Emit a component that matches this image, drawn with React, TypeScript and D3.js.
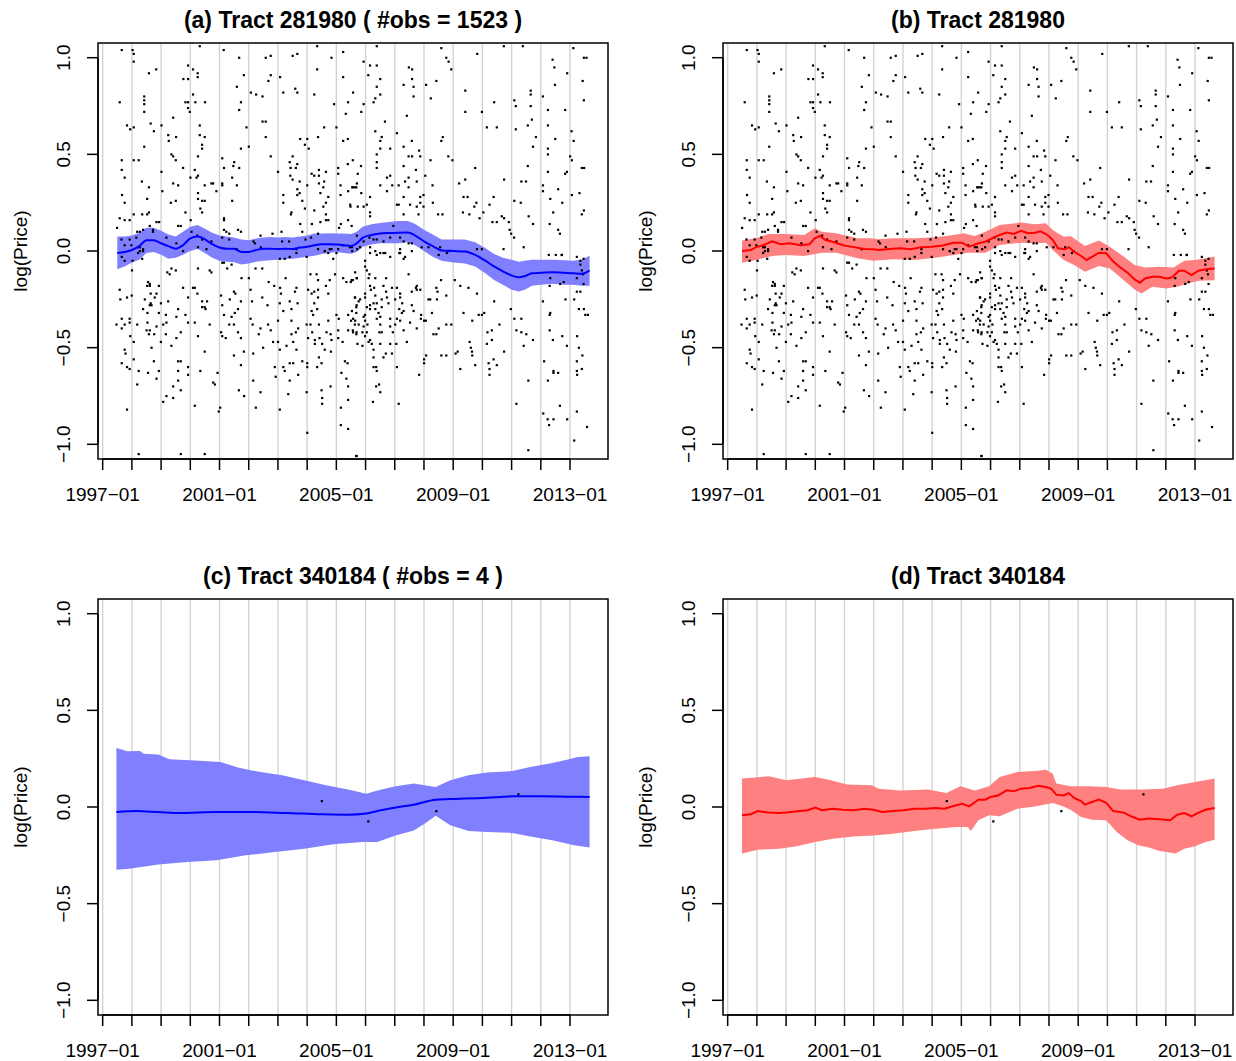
import React from "react";
import * as d3 from "d3";

// ---------------- data ----------------
const xTickYears = [1997, 1998, 1999, 2000, 2001, 2002, 2003, 2004, 2005, 2006, 2007, 2008, 2009, 2010, 2011, 2012, 2013];
const xLabelYears = [1997, 2001, 2005, 2009, 2013];
const yTicks = [-1, -0.5, 0, 0.5, 1];

// Panel (a) posterior mean (blue) and band
const lineA: [number, number][] = [
  [1997.5, -0.01], [1997.75, -0.005], [1998.0, 0.005], [1998.25, 0.025], [1998.5, 0.055], [1998.75, 0.055],
  [1999.0, 0.04], [1999.25, 0.025], [1999.5, 0.012], [1999.75, 0.03], [2000.0, 0.065], [2000.25, 0.075],
  [2000.5, 0.06], [2000.75, 0.035], [2001.0, 0.018], [2001.25, 0.012], [2001.5, 0.012], [2001.75, -0.005],
  [2002.0, -0.005], [2002.25, 0.005], [2002.5, 0.012], [2002.75, 0.012], [2003.0, 0.01], [2003.25, 0.012],
  [2003.5, 0.01], [2003.75, 0.018], [2004.0, 0.022], [2004.25, 0.03], [2004.5, 0.035], [2004.75, 0.035],
  [2005.0, 0.033], [2005.25, 0.03], [2005.5, 0.026], [2005.7, 0.04], [2005.9, 0.068], [2006.2, 0.083],
  [2006.5, 0.09], [2006.8, 0.093], [2007.1, 0.095], [2007.45, 0.096], [2007.7, 0.08], [2008.0, 0.05],
  [2008.3, 0.025], [2008.6, 0.003], [2009.0, 0.0], [2009.4, -0.003], [2009.75, -0.02], [2010.1, -0.05],
  [2010.4, -0.08], [2010.7, -0.105], [2011.0, -0.127], [2011.25, -0.136], [2011.45, -0.13], [2011.7, -0.115],
  [2012.0, -0.113], [2012.4, -0.11], [2012.8, -0.113], [2013.1, -0.115], [2013.4, -0.118], [2013.67, -0.1],
];
const upperA: [number, number][] = [
  [1997.5, 0.075], [1997.75, 0.075], [1998.0, 0.08], [1998.25, 0.095], [1998.5, 0.12], [1998.75, 0.12],
  [1999.0, 0.105], [1999.25, 0.085], [1999.5, 0.075], [1999.75, 0.1], [2000.0, 0.125], [2000.25, 0.135],
  [2000.5, 0.115], [2000.75, 0.095], [2001.0, 0.08], [2001.25, 0.075], [2001.5, 0.07], [2001.75, 0.06],
  [2002.0, 0.055], [2002.25, 0.065], [2002.5, 0.07], [2002.75, 0.072], [2003.0, 0.07], [2003.25, 0.072],
  [2003.5, 0.07], [2003.75, 0.075], [2004.0, 0.08], [2004.25, 0.09], [2004.5, 0.09], [2004.75, 0.092],
  [2005.0, 0.09], [2005.25, 0.09], [2005.5, 0.088], [2005.7, 0.1], [2005.9, 0.125], [2006.2, 0.138],
  [2006.5, 0.145], [2006.8, 0.15], [2007.1, 0.155], [2007.45, 0.155], [2007.7, 0.14], [2008.0, 0.11],
  [2008.3, 0.085], [2008.6, 0.06], [2009.0, 0.06], [2009.4, 0.06], [2009.75, 0.045], [2010.1, 0.015],
  [2010.4, -0.015], [2010.7, -0.035], [2011.0, -0.045], [2011.25, -0.055], [2011.45, -0.05], [2011.7, -0.045],
  [2012.0, -0.045], [2012.4, -0.045], [2012.8, -0.048], [2013.1, -0.05], [2013.4, -0.045], [2013.67, -0.025],
];
const lowerA: [number, number][] = [
  [1997.5, -0.095], [1997.75, -0.08], [1998.0, -0.06], [1998.25, -0.045], [1998.5, -0.01], [1998.75, -0.005],
  [1999.0, -0.02], [1999.25, -0.04], [1999.5, -0.035], [1999.75, -0.02], [2000.0, 0.0], [2000.25, 0.01],
  [2000.5, -0.01], [2000.75, -0.035], [2001.0, -0.05], [2001.25, -0.055], [2001.5, -0.058], [2001.75, -0.07],
  [2002.0, -0.065], [2002.25, -0.055], [2002.5, -0.05], [2002.75, -0.048], [2003.0, -0.045], [2003.25, -0.043],
  [2003.5, -0.04], [2003.75, -0.035], [2004.0, -0.03], [2004.25, -0.025], [2004.5, -0.015], [2004.75, -0.01],
  [2005.0, -0.005], [2005.25, -0.01], [2005.5, -0.014], [2005.7, -0.005], [2005.9, 0.022], [2006.2, 0.033],
  [2006.5, 0.04], [2006.8, 0.04], [2007.1, 0.04], [2007.45, 0.045], [2007.7, 0.03], [2008.0, 0.0],
  [2008.3, -0.03], [2008.6, -0.05], [2009.0, -0.06], [2009.4, -0.065], [2009.75, -0.08], [2010.1, -0.115],
  [2010.4, -0.15], [2010.7, -0.175], [2011.0, -0.2], [2011.25, -0.21], [2011.45, -0.2], [2011.7, -0.18],
  [2012.0, -0.175], [2012.4, -0.17], [2012.8, -0.175], [2013.1, -0.175], [2013.4, -0.18], [2013.67, -0.18],
];

// Panel (b) red line and band
const lineB: [number, number][] = [
  [1997.49, 0.0], [1997.79, 0.005], [1997.97, 0.02], [1998.22, 0.03], [1998.52, 0.05], [1998.82, 0.035],
  [1999.13, 0.04], [1999.49, 0.03], [1999.8, 0.035], [1999.98, 0.065], [2000.16, 0.078], [2000.35, 0.057],
  [2000.59, 0.048], [2000.95, 0.03], [2001.32, 0.02], [2001.68, 0.01], [2001.99, 0.009], [2002.17, 0.005],
  [2002.54, 0.01], [2002.9, 0.014], [2003.27, 0.009], [2003.63, 0.02], [2003.99, 0.022], [2004.36, 0.028],
  [2004.73, 0.043], [2005.03, 0.043], [2005.27, 0.022], [2005.58, 0.04], [2005.82, 0.048], [2006.06, 0.066],
  [2006.31, 0.083], [2006.55, 0.095], [2006.79, 0.088], [2007.04, 0.104], [2007.28, 0.092], [2007.52, 0.095],
  [2007.71, 0.102], [2007.95, 0.083], [2008.13, 0.057], [2008.31, 0.014], [2008.56, 0.009], [2008.68, 0.02],
  [2008.86, -0.003], [2009.1, -0.026], [2009.29, -0.047], [2009.47, -0.03], [2009.71, -0.009], [2009.96, -0.012],
  [2010.2, -0.055], [2010.44, -0.085], [2010.69, -0.112], [2010.93, -0.147], [2011.11, -0.164], [2011.29, -0.142],
  [2011.54, -0.133], [2011.78, -0.133], [2012.02, -0.142], [2012.21, -0.137], [2012.45, -0.102], [2012.63, -0.102],
  [2012.88, -0.125], [2013.12, -0.102], [2013.36, -0.095], [2013.67, -0.09],
];
const upperB: [number, number][] = [
  [1997.49, 0.054], [1997.97, 0.066], [1998.4, 0.088], [1999.01, 0.088], [1999.62, 0.083], [1999.98, 0.118],
  [2000.22, 0.1], [2000.71, 0.092], [2001.44, 0.066], [2001.93, 0.066], [2002.17, 0.061], [2002.66, 0.066],
  [2003.39, 0.066], [2004.12, 0.071], [2004.73, 0.083], [2005.09, 0.092], [2005.46, 0.078], [2005.82, 0.1],
  [2006.31, 0.135], [2007.04, 0.147], [2007.52, 0.138], [2007.89, 0.144], [2008.13, 0.109], [2008.5, 0.074],
  [2008.74, 0.078], [2009.23, 0.026], [2009.71, 0.054], [2010.08, 0.022], [2010.56, -0.029], [2010.93, -0.073],
  [2011.29, -0.085], [2011.78, -0.081], [2012.27, -0.085], [2012.63, -0.05], [2013.0, -0.047], [2013.36, -0.038],
  [2013.67, -0.029],
];
const lowerB: [number, number][] = [
  [1997.49, -0.061], [1997.97, -0.047], [1998.52, -0.026], [1999.01, -0.021], [1999.62, -0.026], [2000.22, -0.009],
  [2000.71, -0.009], [2001.44, -0.038], [2001.99, -0.05], [2002.66, -0.043], [2003.39, -0.047], [2004.12, -0.035],
  [2004.73, -0.021], [2005.21, -0.009], [2005.82, -0.009], [2006.31, 0.031], [2007.04, 0.043], [2007.52, 0.04],
  [2007.89, 0.043], [2008.13, 0.005], [2008.5, -0.047], [2008.86, -0.073], [2009.23, -0.107], [2009.71, -0.078],
  [2010.08, -0.09], [2010.56, -0.151], [2010.93, -0.199], [2011.17, -0.22], [2011.54, -0.185], [2012.02, -0.194],
  [2012.39, -0.185], [2012.75, -0.168], [2013.12, -0.154], [2013.67, -0.151],
];

// Panel (c) blue line and band
const lineC: [number, number][] = [
  [1997.47, -0.026], [1998.16, -0.021], [1998.91, -0.026], [1999.66, -0.031], [2000.9, -0.026], [2002.03, -0.026],
  [2003.28, -0.031], [2004.53, -0.038], [2005.4, -0.04], [2006.03, -0.034], [2006.4, -0.021], [2007.03, -0.003],
  [2007.65, 0.012], [2008.4, 0.038], [2008.9, 0.041], [2010.15, 0.048], [2011.02, 0.055], [2012.02, 0.055],
  [2012.89, 0.053], [2013.67, 0.052],
];
const upperC: [number, number][] = [
  [1997.47, 0.305], [1997.85, 0.288], [1998.28, 0.29], [1998.41, 0.276], [1998.91, 0.272], [1999.28, 0.247],
  [2000.16, 0.241], [2001.03, 0.233], [2001.66, 0.203], [2002.4, 0.181], [2003.15, 0.164], [2003.9, 0.138],
  [2004.65, 0.112], [2005.4, 0.09], [2006.03, 0.069], [2006.4, 0.086], [2007.03, 0.107], [2007.65, 0.121],
  [2008.4, 0.103], [2008.9, 0.138], [2009.52, 0.164], [2010.15, 0.178], [2011.02, 0.186], [2011.64, 0.207],
  [2012.39, 0.228], [2012.89, 0.245], [2013.27, 0.259], [2013.67, 0.262],
];
const lowerC: [number, number][] = [
  [1997.47, -0.324], [1997.91, -0.319], [1998.91, -0.297], [1999.91, -0.284], [2000.9, -0.276], [2001.9, -0.25],
  [2002.9, -0.233], [2003.9, -0.216], [2004.9, -0.193], [2005.9, -0.181], [2006.4, -0.181], [2007.03, -0.147],
  [2007.65, -0.121], [2008.02, -0.086], [2008.4, -0.045], [2008.9, -0.095], [2009.52, -0.124], [2010.15, -0.129],
  [2011.02, -0.134], [2011.64, -0.152], [2012.39, -0.172], [2013.14, -0.198], [2013.67, -0.21],
];

// Panel (d) red line and band
const lineD: [number, number][] = [
  [1997.49, -0.043], [1997.79, -0.038], [1998.03, -0.021], [1998.4, -0.029], [1998.76, -0.031], [1999.01, -0.029],
  [1999.37, -0.022], [1999.74, -0.017], [2000.0, -0.003], [2000.22, -0.017], [2000.59, -0.009], [2000.95, -0.014],
  [2001.32, -0.017], [2001.68, -0.009], [2001.99, -0.014], [2002.29, -0.026], [2002.66, -0.021], [2003.02, -0.017],
  [2003.39, -0.009], [2003.75, -0.009], [2004.12, -0.005], [2004.42, -0.009], [2004.73, 0.005], [2005.03, 0.017],
  [2005.27, 0.003], [2005.58, 0.038], [2005.82, 0.038], [2006.0, 0.052], [2006.25, 0.059], [2006.55, 0.086],
  [2006.79, 0.081], [2007.04, 0.095], [2007.34, 0.098], [2007.64, 0.11], [2007.89, 0.103], [2008.07, 0.095],
  [2008.25, 0.064], [2008.5, 0.06], [2008.68, 0.072], [2008.86, 0.047], [2009.1, 0.031], [2009.23, 0.012],
  [2009.47, 0.026], [2009.71, 0.038], [2009.96, 0.022], [2010.2, -0.021], [2010.56, -0.029], [2010.81, -0.048],
  [2011.11, -0.066], [2011.42, -0.06], [2011.78, -0.064], [2012.15, -0.069], [2012.39, -0.04], [2012.63, -0.031],
  [2012.88, -0.048], [2013.12, -0.029], [2013.36, -0.014], [2013.67, -0.005],
];
const upperD: [number, number][] = [
  [1997.49, 0.147], [1998.4, 0.159], [1999.01, 0.138], [1999.98, 0.155], [2000.47, 0.141], [2001.08, 0.117],
  [2001.93, 0.112], [2002.17, 0.095], [2002.9, 0.086], [2003.87, 0.09], [2004.48, 0.072], [2004.97, 0.107],
  [2005.46, 0.086], [2005.95, 0.107], [2006.31, 0.155], [2006.92, 0.181], [2007.52, 0.186], [2007.89, 0.193],
  [2008.13, 0.172], [2008.25, 0.121], [2008.74, 0.107], [2009.35, 0.107], [2009.96, 0.103], [2010.44, 0.09],
  [2011.17, 0.09], [2011.9, 0.095], [2012.39, 0.112], [2013.0, 0.129], [2013.67, 0.147],
];
const lowerD: [number, number][] = [
  [1997.49, -0.241], [1998.03, -0.221], [1998.76, -0.216], [1999.37, -0.203], [2000.0, -0.181], [2000.59, -0.164],
  [2001.32, -0.152], [2001.99, -0.147], [2002.66, -0.138], [2003.39, -0.124], [2004.12, -0.112], [2004.85, -0.103],
  [2005.21, -0.103], [2005.33, -0.124], [2005.58, -0.069], [2005.95, -0.043], [2006.31, -0.048], [2006.92, -0.009],
  [2007.52, 0.003], [2008.13, 0.021], [2008.5, 0.003], [2008.74, -0.014], [2009.1, -0.052], [2009.47, -0.066],
  [2009.96, -0.069], [2010.32, -0.129], [2010.69, -0.172], [2011.05, -0.198], [2011.42, -0.21], [2011.78, -0.228],
  [2012.02, -0.233], [2012.33, -0.241], [2012.63, -0.216], [2013.0, -0.203], [2013.36, -0.181], [2013.67, -0.169],
];

const obsPoints281980: [number, number][] = [
  [1997.65,1.04],[1997.58,0.77],[1997.83,0.65],[1997.94,0.63],[1997.65,0.47],[1997.65,0.42],[1997.75,0.38],[1997.66,0.29],[1997.75,0.25],[1997.58,0.17],[1997.75,0.16],[1997.92,0.16],[1997.49,0.12],
  [1998.02,1.04],[1998.06,1.02],[1998.06,0.98],[1998.06,0.64],[1998.06,0.47],[1998.23,0.47],[1998.42,0.80],[1998.42,0.78],[1998.42,0.76],[1998.42,0.72],[1998.42,0.54],[1998.34,0.36],[1998.52,0.27],[1998.58,0.92],[1998.83,0.94],[1998.64,0.66],[1998.75,0.62],[1998.58,0.33],[1998.58,0.20],[1998.52,0.19],[1998.35,0.19],[1998.06,0.19],[1998.18,0.10],[1998.61,0.13],[1998.84,0.15],[1998.93,0.15],[1999.01,0.65],[1999.01,0.41],[1999.04,0.31],[1998.72,0.11],
  [1999.24,0.60],[1999.26,0.57],[1999.35,0.50],[1999.41,0.49],[1999.50,0.47],[1999.41,0.69],[1999.51,0.59],[1999.75,0.43],[1999.58,0.34],[1999.41,0.35],[1999.33,0.25],[1999.50,0.26],[1999.83,0.20],[1999.58,0.13],[1999.67,0.13],[1999.92,0.96],[1999.76,0.89],[1999.92,0.89],[1999.83,0.77],[1999.92,0.77],[1999.92,0.74],[1999.98,0.72],[2000.09,0.81],[2000.09,0.94],[2000.25,0.92],[2000.25,0.90],[2000.32,1.06],[2000.17,0.77],[2000.50,0.77],[2000.32,0.65],[2000.32,0.60],[2000.49,0.59],[2000.40,0.55],[2000.40,0.53],[2000.26,0.49],[2000.15,0.42],[2000.26,0.39],[2000.21,0.38],[2000.00,0.38],[2000.49,0.34],[2000.78,0.35],[2000.72,0.35],[2000.26,0.30],[2000.26,0.27],[2000.40,0.26],[2000.49,0.26],[2000.34,0.22],[2000.40,0.20],[2000.01,0.16],
  [2001.14,1.04],[2001.67,1.00],[2001.83,0.91],[2001.59,0.85],[2001.73,0.77],[2001.67,0.73],[2001.92,0.64],[2001.73,0.53],[2001.09,0.48],[2001.15,0.43],[2001.50,0.46],[2001.47,0.44],[2001.67,0.43],[2001.43,0.38],[2001.09,0.35],[2001.09,0.34],[2001.59,0.34],[2000.89,0.31],[2001.43,0.26],[2001.15,0.17],[2001.15,0.16],[2001.15,0.11],[2001.23,0.10],[2001.33,0.09],[2001.63,0.11],[2001.73,0.10],
  [2002.00,0.54],[2002.07,0.82],[2002.25,0.81],[2002.47,0.80],[2002.58,1.00],[2002.75,1.01],[2002.67,0.88],[2002.75,0.91],[2003.07,0.90],[2002.47,0.67],[2002.58,0.67],[2002.58,0.59],[2002.75,0.49],[2003.00,0.41],[2003.18,0.29],[2003.18,0.25],[2003.44,0.19],[2003.12,0.10],[2002.40,0.08],
  [2003.50,1.01],[2003.66,1.02],[2003.18,0.82],[2003.59,0.84],[2003.66,0.82],[2003.40,0.46],[2003.50,0.49],[2003.43,0.43],[2003.66,0.45],[2003.61,0.43],[2003.76,0.58],[2004.00,0.58],[2003.92,0.55],[2004.05,0.53],[2003.42,0.39],[2003.50,0.37],[2003.74,0.36],[2003.66,0.32],[2003.74,0.30],[2003.66,0.29],[2003.83,0.26],[2004.00,0.34],[2003.92,0.22],[2003.46,0.20],[2003.76,0.14],[2003.83,0.10],[2004.34,1.06],[2004.34,0.94],[2004.24,0.81],
  [2004.15,0.40],[2004.24,0.39],[2004.40,0.42],[2004.40,0.39],[2004.40,0.35],[2004.55,0.33],[2004.64,0.41],[2004.58,0.36],[2004.45,0.30],[2004.72,0.28],[2004.64,0.25],[2004.55,0.23],[2004.64,0.19],[2004.64,0.16],[2004.45,0.15],[2004.72,0.16],[2004.24,0.21],[2004.16,0.14],[2004.37,0.59],[2004.58,0.64],[2004.83,1.00],[2005.23,1.03],[2005.23,0.90],[2004.92,0.76],[2005.00,0.64],[2005.23,0.57],[2005.40,0.77],[2005.32,0.71],[2005.39,0.58],[2005.39,0.45],[2005.06,0.43],[2005.06,0.40],[2005.14,0.34],[2005.14,0.29],[2005.40,0.31],[2005.54,0.33],[2005.63,0.33],[2005.48,0.23],[2005.40,0.16],[2005.52,0.13],[2005.15,0.14],[2005.09,0.12],
  [1997.64,0.06],[1997.75,0.03],[1997.92,0.06],[1998.15,0.07],[1998.27,0.02],[1998.38,0.00],[1998.27,0.10],[1998.38,0.11],[1998.72,0.10],[1999.18,0.07],[1999.52,0.04],[1999.75,0.00],[2000.04,0.10],[2000.23,0.08],[2000.40,0.06],[2000.55,0.01],[2000.72,0.05],[2001.09,0.07],[2001.33,0.06],[2001.58,0.01],[2002.16,0.05],[2002.21,0.04],[2002.41,0.02],[2002.81,0.09],[2003.14,0.05],[2003.38,0.05],[2003.63,0.01],[2003.94,0.06],[2004.13,0.07],[2004.37,0.09],[2004.60,0.00],[2004.72,-0.01],[2004.83,0.01],[2005.00,-0.01],[2005.23,0.03],[2005.46,0.02],[2005.71,0.01],
  [2006.38,1.06],[2005.93,0.98],[2006.15,0.96],[2006.38,0.96],[2006.09,0.91],[2006.50,0.89],[2005.57,0.82],[2006.38,0.85],[2006.50,0.81],[2006.33,0.79],[2006.27,0.77],[2005.93,0.76],[2005.85,0.72],[2006.66,0.67],[2006.33,0.62],[2006.55,0.59],[2006.50,0.57],[2006.50,0.53],[2006.84,0.53],[2006.38,0.50],[2006.38,0.46],[2006.38,0.43],[2005.56,0.47],[2005.84,0.44],[2005.73,0.40],[2005.70,0.35],[2005.56,0.33],[2005.68,0.33],[2005.85,0.30],[2005.47,0.24],[2006.15,0.28],[2005.73,0.23],[2005.93,0.23],[2006.04,0.24],[2006.15,0.20],[2006.15,0.18],[2006.50,0.34],[2006.73,0.38],[2006.84,0.39],[2006.73,0.31],[2006.91,0.34],[2007.07,0.61],[2007.30,0.86],[2007.48,0.95],[2007.59,0.94],[2007.59,0.89],[2007.64,0.85],[2007.64,0.80],[2007.41,0.70],[2007.58,0.57],[2007.30,0.54],[2007.47,0.49],[2007.59,0.49],[2007.87,0.49],[2007.83,0.52],[2007.30,0.44],[2007.72,0.42],[2007.47,0.38],[2007.75,0.36],[2007.13,0.34],[2007.35,0.36],[2007.47,0.33],[2007.30,0.28],[2007.87,0.28],[2007.07,0.24],[2007.13,0.24],[2007.52,0.24],[2007.75,0.23],[2007.81,0.19],[2007.87,0.25],[2007.30,0.19],[2007.98,0.23],[2008.07,0.86],[2008.42,0.88],[2008.23,0.79],[2008.59,1.05],[2008.76,1.00],[2008.84,0.98],[2008.93,0.94],[2008.22,0.47],[2008.04,0.39],[2008.29,0.34],[2007.98,0.29],[2008.30,0.25],[2008.48,0.19],[2008.63,0.19],[2008.59,0.57],[2008.64,0.59],[2008.83,0.49],[2008.97,0.47],[2009.20,0.35],[2009.41,0.83],[2009.41,0.72],[2009.41,0.37],[2009.35,0.28],[2009.49,0.28],[2009.33,0.20],[2009.55,0.19],[2009.75,0.43],[2009.82,1.02],[2009.98,0.72],[2009.79,0.25],[2009.72,0.23],[2009.90,0.17],[2010.03,0.20],[2010.15,0.64],[2010.49,0.64],[2010.40,0.77],[2010.74,0.37],[2010.38,0.28],[2010.24,0.24],[2010.34,0.15],[2010.49,0.15],[2010.66,0.18],[2010.74,0.17],[2010.73,1.06],[2011.09,0.78],[2011.14,0.75],[2011.14,0.63],[2011.33,0.36],[2011.49,0.36],[2011.55,0.44],[2011.31,0.25],[2011.58,0.18],[2011.73,0.14],[2010.90,0.15],[2011.09,0.26],[2011.38,1.06],[2011.65,0.83],[2011.65,0.81],[2011.65,0.75],[2011.69,0.68],[2011.55,0.65],[2011.83,0.59],[2011.73,0.54],[2012.07,0.80],[2012.24,0.73],[2012.24,0.65],[2012.24,0.53],[2012.24,0.50],[2012.24,0.41],[2012.07,0.34],[2012.07,0.31],[2012.32,0.27],[2012.59,0.32],[2012.73,0.25],[2012.42,0.20],[2012.30,0.14],[2012.59,0.11],[2012.65,0.09],[2012.40,0.99],[2012.46,0.95],[2012.48,0.86],[2012.90,0.92],[2012.83,0.73],[2012.49,0.58],[2012.89,0.41],[2012.83,0.40],[2013.05,0.62],[2013.12,0.57],[2013.00,0.49],[2013.06,0.47],[2013.06,0.29],[2013.32,0.30],[2013.40,0.19],[2013.47,0.21],[2013.11,1.05],[2013.47,1.00],[2013.56,1.00],[2013.43,0.88],[2013.47,0.78],[2013.40,0.43],[2013.48,0.43],
  [2005.70,0.08],[2005.93,0.05],[2006.13,0.07],[2006.27,0.06],[2006.38,0.06],[2006.61,0.05],[2006.84,0.07],[2006.95,0.13],[2007.18,0.07],[2007.30,0.05],[2007.47,0.04],[2007.58,0.04],[2006.61,-0.01],[2006.15,-0.01],[2007.18,0.01],[2008.15,0.02],[2008.55,0.02],[2008.78,-0.01],[2009.98,0.01],[2010.93,0.11],[2010.98,0.09],[2011.08,0.07],
  [1997.65,-0.03],[1997.75,-0.05],[1998.02,-0.05],[1998.00,-0.10],[1998.35,-0.04],[1998.21,-0.01],[1997.58,-0.20],[1997.60,-0.25],[1997.83,-0.24],[1997.99,-0.23],[1997.47,-0.38],[1997.65,-0.35],[1997.65,-0.40],[1997.75,-0.38],[1997.92,-0.35],[1997.92,-0.37],[1997.75,-0.51],[1997.78,-0.53],[1997.65,-0.58],[1997.83,-0.60],[1997.92,-0.61],[1998.06,-0.47],[1998.06,-0.56],[1997.94,-0.44],[1998.18,-0.38],[1998.18,-0.69],[1998.23,-0.62],[1997.83,-0.82],[1998.23,-1.05],
  [1998.38,-0.30],[1998.44,-0.25],[1998.52,-0.18],[1998.55,-0.16],[1998.61,-0.17],[1998.61,-0.18],[1998.64,-0.22],[1998.64,-0.27],[1998.61,-0.28],[1998.67,-0.28],[1998.53,-0.32],[1998.53,-0.37],[1998.50,-0.41],[1998.61,-0.41],[1998.58,-0.43],[1998.67,-0.50],[1998.55,-0.63],[1998.75,-0.57],[1998.84,-0.66],[1998.84,-0.22],[1998.78,-0.24],[1998.84,-0.39],[1998.92,-0.18],[1998.92,-0.32],[1998.92,-0.62],[1998.99,-0.27],[1998.99,-0.47],[1998.76,-0.43],
  [1999.24,-0.26],[1999.16,-0.33],[1999.18,-0.37],[1999.07,-0.38],[1999.16,-0.43],[1999.21,-0.11],[1999.35,-0.09],[1999.29,-0.12],[1999.50,-0.10],[1999.58,-0.30],[1999.52,-0.34],[1999.67,-0.42],[1999.52,-0.45],[1999.35,-0.49],[1999.58,-0.57],[1999.67,-0.57],[1999.58,-0.62],[1999.92,-0.60],[1999.92,-0.64],[1999.58,-0.67],[1999.41,-0.70],[1999.67,-0.72],[1999.18,-0.75],[1999.41,-0.76],[1999.07,-0.78],[1999.67,-1.05],[1999.75,-0.19],[1999.92,-0.24],[1999.83,-0.33],[1999.92,-0.37],
  [2000.09,-0.19],[2000.15,-0.19],[2000.24,-0.22],[2000.15,-0.37],[2000.15,-0.80],[2000.26,-0.09],[2000.26,-0.44],[2000.40,-0.26],[2000.40,-0.29],[2000.49,-0.29],[2000.52,-0.30],[2000.57,-0.26],[2000.49,-0.52],[2000.34,-0.62],[2000.49,-1.05],[2000.66,-0.10],[2000.72,-0.11],[2000.66,-0.38],[2000.78,-0.68],[2000.84,-0.69],[2000.93,-0.63],[2001.02,-0.81],[2000.97,-0.83],
  [2001.05,-0.23],[2001.05,-0.42],[2001.15,-0.33],[2001.09,-0.28],[2001.26,-0.09],[2001.41,-0.07],[2001.09,-0.06],[2001.15,-0.06],[2001.09,-0.44],[2001.21,-0.45],[2001.33,-0.38],[2001.35,-0.25],[2001.49,-0.21],[2001.54,-0.22],[2001.52,-0.32],[2001.41,-0.34],[2001.49,-0.38],[2001.63,-0.30],[2001.73,-0.26],[2001.63,-0.42],[2001.73,-0.45],[2001.49,-0.54],[2001.73,-0.59],[2001.66,-0.72],[2001.84,-0.75],[2001.83,-0.52],[2001.75,-0.14],
  [2002.00,-0.14],[2002.06,-0.20],[2002.11,-0.26],[2002.06,-0.35],[2002.13,-0.38],[2002.15,-0.53],[2002.15,-0.67],[2002.40,-0.73],[2002.24,-0.81],[2002.23,-0.09],[2002.46,-0.09],[2002.46,-0.24],[2002.40,-0.40],[2002.34,-0.43],[2002.49,-0.50],[2002.68,-0.16],[2002.64,-0.28],[2002.66,-0.38],[2002.75,-0.41],[2002.87,-0.18],[2002.83,-0.47],[2002.89,-0.60],[2002.92,-0.65],
  [2003.06,-0.82],[2003.07,-0.19],[2003.10,-0.22],[2003.06,-0.27],[2003.18,-0.31],[2003.00,-0.36],[2003.00,-0.47],[2003.06,-0.51],[2003.29,-0.49],[2003.18,-0.60],[2003.23,-0.62],[2003.40,-0.58],[2003.52,-0.58],[2003.40,-0.67],[2003.35,-0.74],[2003.26,-0.14],[2003.40,-0.26],[2003.46,-0.30],[2003.46,-0.36],[2003.46,-0.43],[2003.52,-0.47],[2003.63,-0.19],[2003.58,-0.21],[2003.67,-0.27],[2003.69,-0.40],[2003.61,-0.42],[2003.63,-0.51],[2003.69,-0.64],[2003.83,-0.57],[2004.00,-0.58],[2004.00,-0.60],[2003.98,-0.73],[2004.00,-0.94],
  [2004.11,-0.12],[2004.03,-0.20],[2004.15,-0.22],[2004.15,-0.31],[2004.11,-0.38],[2003.98,-0.38],[2004.03,-0.45],[2004.17,-0.42],[2004.24,-0.21],[2004.24,-0.27],[2004.32,-0.12],[2004.37,-0.15],[2004.37,-0.20],[2004.37,-0.24],[2004.34,-0.30],[2004.20,-0.33],[2004.40,-0.38],[2004.26,-0.46],[2004.26,-0.48],[2004.42,-0.45],[2004.51,-0.48],[2004.60,-0.51],[2004.40,-0.55],[2004.49,-0.58],[2004.34,-0.60],[2004.49,-0.72],[2004.51,-0.76],[2004.51,-0.79],[2004.72,-0.22],[2004.72,-0.36],[2004.66,-0.42],[2004.80,-0.43],[2004.83,-0.46],[2004.81,-0.52],[2004.80,-0.70],[2004.64,-0.18],[2004.77,-0.15],[2004.95,-0.12],
  [2005.00,-0.33],[2005.08,-0.35],[2005.06,-0.41],[2005.06,-0.45],[2005.21,-0.47],[2005.29,-0.57],[2005.38,-0.58],[2005.17,-0.63],[2005.34,-0.66],[2005.40,-0.70],[2005.40,-0.77],[2005.15,-0.81],[2005.15,-0.90],[2005.40,-0.92],[2005.23,-0.14],[2005.34,-0.16],[2005.49,-0.16],[2005.52,-0.15],[2005.40,-0.33],[2005.40,-0.41],[2005.57,-0.35],[2005.57,-0.42],[2005.63,-0.38],[2005.69,-0.42],[2005.63,-0.24],[2005.69,-0.28],[2005.69,-0.14],[2005.69,-1.06],
  [1997.98,0.03],[1998.21,0.02],[1998.27,0.00],[1998.38,0.01],[2000.26,0.02],[2003.06,-0.04],[2003.23,-0.04],[2003.40,-0.03],[2003.63,-0.01],[2003.98,-0.03],[2004.37,0.01],[2004.60,0.00],[2004.77,0.01],[2004.89,-0.04],[2005.06,0.01],[2005.54,0.00],
  [2005.64,-0.11],[2005.56,-0.15],[2005.70,-0.14],[2005.64,-0.24],[2005.76,-0.26],[2005.81,-0.25],[2005.68,-0.29],[2005.53,-0.31],[2005.68,-0.32],[2005.50,-0.36],[2005.64,-0.36],[2005.76,-0.38],[2005.56,-0.41],[2005.68,-0.43],[2005.89,-0.42],[2005.72,-0.48],[2005.89,-0.49],[2005.98,-0.05],[2005.98,-0.08],[2006.04,-0.10],[2006.13,-0.12],[2006.10,-0.14],[2006.15,-0.18],[2006.18,-0.20],[2005.98,-0.22],[2005.98,-0.24],[2006.04,-0.29],[2006.15,-0.28],[2006.15,-0.30],[2005.98,-0.33],[2005.93,-0.34],[2005.98,-0.36],[2005.93,-0.39],[2006.06,-0.38],[2006.04,-0.42],[2005.98,-0.44],[2006.10,-0.47],[2006.15,-0.46],[2006.21,-0.48],[2006.27,-0.51],[2006.27,-0.55],[2006.27,-0.60],[2006.38,-0.62],[2006.36,-0.60],[2006.36,-0.70],[2006.46,-0.69],[2006.50,-0.73],[2006.25,-0.78],
  [2006.33,-0.14],[2006.29,-0.19],[2006.33,-0.23],[2006.27,-0.27],[2006.38,-0.27],[2006.33,-0.30],[2006.44,-0.32],[2006.50,-0.34],[2006.38,-0.35],[2006.50,-0.38],[2006.47,-0.42],[2006.55,-0.42],[2006.50,-0.48],[2006.61,-0.55],[2006.69,-0.53],[2006.55,-0.29],[2006.55,-0.25],[2006.61,-0.18],[2006.70,-0.14],[2006.70,-0.21],[2006.73,-0.24],[2006.78,-0.27],[2006.84,-0.39],[2006.84,-0.48],[2006.90,-0.53],[2007.05,-0.48],[2006.84,-0.35],[2007.07,-0.35],[2007.01,-0.38],[2006.93,-0.42],[2006.90,-0.19],[2007.07,-0.19],[2007.01,-0.25],[2007.18,-0.24],[2007.18,-0.22],[2007.25,-0.27],[2007.30,-0.31],[2007.24,-0.32],[2007.18,-0.36],[2007.30,-0.41],[2007.41,-0.47],[2007.15,-0.30],[2007.07,-0.60],[2007.13,-0.79],[2007.15,-0.01],[2007.30,-0.04],[2007.47,-0.12],
  [2007.58,-0.21],[2007.58,-0.28],[2007.64,-0.31],[2007.52,-0.37],[2007.75,-0.18],[2007.75,-0.20],[2007.90,-0.33],[2007.89,-0.35],[2007.75,-0.40],[2007.72,-0.19],[2007.87,-0.20],[2008.00,-0.36],[2008.06,-0.36],[2008.00,-0.56],[2008.00,-0.58],[2007.83,-0.64],[2008.07,-0.54],[2008.15,-0.25],[2008.21,-0.25],[2008.27,-0.32],[2008.42,-0.19],[2008.46,-0.21],[2008.44,-0.25],[2008.50,-0.40],[2008.32,-0.43],[2008.42,-0.43],[2008.59,-0.54],[2008.76,-0.54],[2008.76,-0.38],[2008.93,-0.38],[2008.58,-0.15],[2008.76,-0.23],
  [2009.05,-0.15],[2009.15,-0.52],[2009.08,-0.53],[2009.24,-0.61],[2009.24,-0.18],[2009.35,-0.32],[2009.52,-0.19],[2009.56,-0.47],[2009.60,-0.50],[2009.65,-0.36],[2009.64,-0.52],[2009.65,-0.54],[2009.75,-0.59],[2009.81,-0.22],[2009.87,-0.33],[2009.98,-0.33],[2010.06,-0.32],[2010.15,-0.48],[2010.17,-0.42],[2010.24,-0.61],[2010.24,-0.64],[2010.21,-0.58],[2010.32,-0.46],[2010.38,-0.56],[2010.49,-0.59],[2010.40,-0.26],[2010.58,-0.38],[2010.74,-0.52],[2010.32,-0.41],[2010.97,-0.30],
  [2011.09,-0.35],[2011.16,-0.41],[2011.33,-0.35],[2011.33,-0.42],[2011.41,-0.49],[2011.50,-0.43],[2011.73,-0.46],[2011.57,-0.67],[2011.16,-0.79],[2011.57,-1.03],[2012.07,-0.26],[2012.11,-0.57],[2012.24,-0.67],[2012.30,-0.41],[2012.30,-0.33],[2012.32,-0.32],[2012.41,-0.46],[2012.43,-0.62],[2012.43,-0.63],[2012.59,-0.63],[2012.65,-0.80],[2012.73,-0.44],[2012.84,-0.25],[2012.89,-0.49],[2012.23,-0.87],[2012.28,-0.90],[2012.43,-0.87],[2012.08,-0.84],[2012.90,-0.87],
  [2013.14,-0.25],[2013.30,-0.30],[2013.47,-0.30],[2013.52,-0.33],[2013.61,-0.33],[2013.24,-0.44],[2013.30,-0.50],[2013.42,-0.54],[2013.23,-0.57],[2013.23,-0.62],[2013.40,-0.61],[2013.24,-0.64],[2013.23,-0.83],[2013.58,-0.91],[2013.14,-0.98],[2012.51,-0.02],[2012.71,-0.02],[2005.68,-1.06],
  [2005.53,0.02],[2005.81,0.02],[2006.15,0.02],[2006.33,0.00],[2006.38,-0.02],[2006.50,-0.01],[2006.67,-0.01],[2006.84,-0.03],[2007.18,-0.01],[2007.35,-0.03],[2007.58,0.00],[2007.92,0.02],[2008.50,-0.02],[2008.84,0.00],[2009.81,0.01],[2010.72,0.01],[2011.41,0.02],[2012.27,-0.02],[2012.72,-0.02],[2013.23,-0.03],[2013.35,-0.05],[2013.46,-0.04],[2013.35,-0.07],[2013.40,-0.10],[2013.44,-0.12],[2013.46,-0.17],[2013.23,-0.14],[2012.78,-0.16],[2012.66,-0.17],[2012.30,-0.18],[2012.32,-0.14],[2013.23,-0.21],[2013.35,-0.21],
];

// Observations, tract 340184 (4 sales)
const obsPoints340184: [number, number][] = [
  [2004.5, 0.031], [2006.09, -0.074], [2008.42, -0.021], [2011.23, 0.066],
];

const titles = [
  "(a) Tract 281980 ( #obs = 1523 )",
  "(b) Tract 281980",
  "(c) Tract 340184 ( #obs = 4 )",
  "(d) Tract 340184",
];

// ---------------- layout ----------------
const W = 1236;
const H = 1061;
const BOX = { left: 98, right: 608, top: 43, bottom: 459 };
const FONT = "'Liberation Sans', Arial, Helvetica, sans-serif";

const x = d3.scaleLinear().domain([1996.84, 2014.3]).range([BOX.left, BOX.right]);
const y = d3.scaleLinear().domain([-1.076, 1.076]).range([BOX.bottom, BOX.top]);

const fmtY = (v: number) => d3.format(".1f")(v).replace("-", "\u2212");

type Panel = {
  dx: number;
  dy: number;
  title: string;
  line: [number, number][];
  upper: [number, number][];
  lower: [number, number][];
  points: [number, number][];
  lineColor: string;
  bandColor: string;
  smooth: boolean;
};

const panels: Panel[] = [
  { dx: 0, dy: 0, title: titles[0], line: lineA, upper: upperA, lower: lowerA, points: obsPoints281980, lineColor: "#0000FF", bandColor: "#8080FF", smooth: true },
  { dx: 625, dy: 0, title: titles[1], line: lineB, upper: upperB, lower: lowerB, points: obsPoints281980, lineColor: "#FF0000", bandColor: "#FF8080", smooth: false },
  { dx: 0, dy: 556, title: titles[2], line: lineC, upper: upperC, lower: lowerC, points: obsPoints340184, lineColor: "#0000FF", bandColor: "#8080FF", smooth: true },
  { dx: 625, dy: 556, title: titles[3], line: lineD, upper: upperD, lower: lowerD, points: obsPoints340184, lineColor: "#FF0000", bandColor: "#FF8080", smooth: false },
];

function PanelView({ p, idx }: { p: Panel; idx: number }) {
  const lineGen = d3
    .line<[number, number]>()
    .x((d) => x(d[0]))
    .y((d) => y(d[1]))
    .curve(p.smooth ? d3.curveMonotoneX : d3.curveLinear);
  const polyGen = d3
    .line<[number, number]>()
    .x((d) => x(d[0]))
    .y((d) => y(d[1]))
    .curve(d3.curveLinear);
  const bandPts = [...p.upper, ...[...p.lower].reverse()];
  const bandPath = (polyGen(bandPts) || "") + "Z";
  const clipId = `clip-${idx}`;
  const midX = (BOX.left + BOX.right) / 2;
  const midY = (BOX.top + BOX.bottom) / 2;

  return (
    <g transform={`translate(${p.dx},${p.dy})`}>
      <defs>
        <clipPath id={clipId}>
          <rect x={BOX.left} y={BOX.top} width={BOX.right - BOX.left} height={BOX.bottom - BOX.top} />
        </clipPath>
      </defs>
      {/* grid */}
      {xTickYears.map((yr) => (
        <line key={`g${yr}`} x1={x(yr)} x2={x(yr)} y1={BOX.top} y2={BOX.bottom} stroke="#d3d3d3" strokeWidth={1.4} />
      ))}
      <g clipPath={`url(#${clipId})`}>
        <path d={bandPath} fill={p.bandColor} stroke="none" />
        {p.points.map((d, i) => (
          <rect key={i} x={x(d[0]) - 1} y={y(d[1]) - 1} width={2.2} height={2.2} fill="#000" />
        ))}
        <path d={lineGen(p.line) || ""} fill="none" stroke={p.lineColor} strokeWidth={2} />
      </g>
      {/* box */}
      <rect x={BOX.left} y={BOX.top} width={BOX.right - BOX.left} height={BOX.bottom - BOX.top} fill="none" stroke="#000" strokeWidth={1.5} />
      {/* x axis */}
      <line x1={x(1997)} x2={x(2013)} y1={BOX.bottom} y2={BOX.bottom} stroke="#000" strokeWidth={1.5} />
      {xTickYears.map((yr) => (
        <line key={`t${yr}`} x1={x(yr)} x2={x(yr)} y1={BOX.bottom} y2={BOX.bottom + 11} stroke="#000" strokeWidth={1.5} />
      ))}
      {xLabelYears.map((yr) => (
        <text key={`l${yr}`} x={x(yr)} y={BOX.bottom + 42} textAnchor="middle" fontSize={19} fontFamily={FONT} fill="#000">
          {`${yr}\u221201`}
        </text>
      ))}
      {/* y axis */}
      <line x1={BOX.left} x2={BOX.left} y1={y(-1)} y2={y(1)} stroke="#000" strokeWidth={1.5} />
      {yTicks.map((v) => (
        <g key={`y${v}`}>
          <line x1={BOX.left - 11} x2={BOX.left} y1={y(v)} y2={y(v)} stroke="#000" strokeWidth={1.5} />
          <text
            transform={`translate(${BOX.left - 28},${y(v)}) rotate(-90)`}
            textAnchor="middle"
            fontSize={19}
            fontFamily={FONT}
            fill="#000"
          >
            {fmtY(v)}
          </text>
        </g>
      ))}
      <text transform={`translate(${27},${midY}) rotate(-90)`} textAnchor="middle" fontSize={19} fontFamily={FONT} fill="#000">
        log(Price)
      </text>
      <text x={midX} y={28} textAnchor="middle" fontSize={23} fontWeight="bold" fontFamily={FONT} fill="#000">
        {p.title}
      </text>
    </g>
  );
}

export default function App() {
  return (
    <svg
      width={W}
      height={H}
      viewBox={`0 0 ${W} ${H}`}
      style={{ position: "absolute", left: 0, top: 0, background: "#fff" }}
    >
      <rect x={0} y={0} width={W} height={H} fill="#fff" />
      {panels.map((p, i) => (
        <PanelView key={i} p={p} idx={i} />
      ))}
    </svg>
  );
}
